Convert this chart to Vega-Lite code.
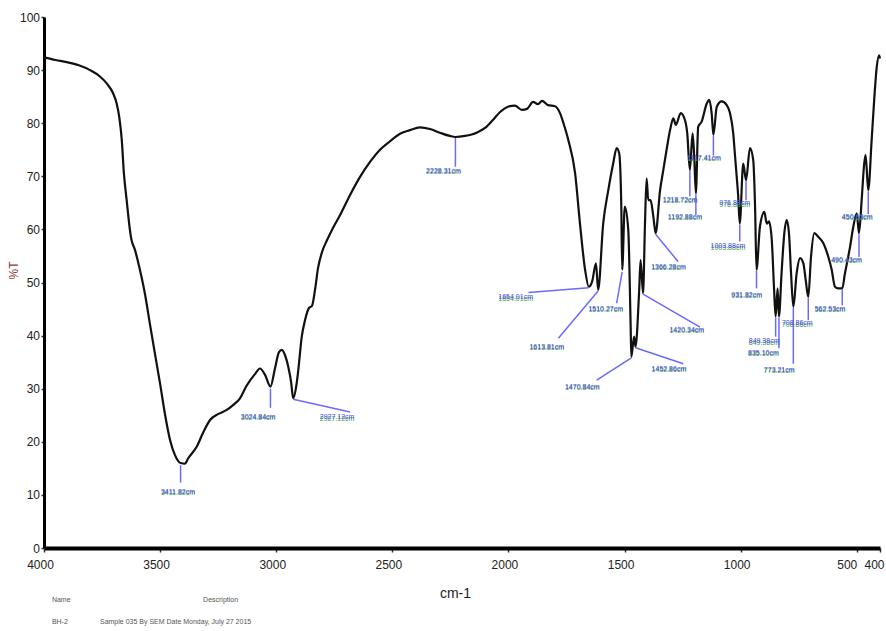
{
  "$schema": "https://vega.github.io/schema/vega-lite/v6.json",
  "width": 836,
  "height": 531,
  "autosize": {"type": "none"},
  "padding": {"left": 44, "top": 17, "right": 6, "bottom": 83},
  "background": "white",
  "config": {
    "view": {"stroke": null},
    "font": "Liberation Sans, Arial, sans-serif"
  },
  "datasets": {
    "spectrum": [
      {"wn": 4000, "t": 92.4}, {"wn": 3950, "t": 91.9}, {"wn": 3902, "t": 91.5}, {"wn": 3850, "t": 90.9},
      {"wn": 3802, "t": 90.0}, {"wn": 3759, "t": 88.8}, {"wn": 3730, "t": 87.5}, {"wn": 3702, "t": 85.6},
      {"wn": 3687, "t": 83.7}, {"wn": 3676, "t": 81.2}, {"wn": 3665, "t": 76.8}, {"wn": 3656, "t": 70.6},
      {"wn": 3644, "t": 65.5}, {"wn": 3630, "t": 59.9}, {"wn": 3625, "t": 58.4},
      {"wn": 3608, "t": 56.1}, {"wn": 3587, "t": 52.4}, {"wn": 3565, "t": 47.8}, {"wn": 3544, "t": 42.2},
      {"wn": 3522, "t": 36.5}, {"wn": 3500, "t": 30.9}, {"wn": 3479, "t": 25.2}, {"wn": 3457, "t": 20.3},
      {"wn": 3436, "t": 17.5}, {"wn": 3411.82, "t": 16.0}, {"wn": 3393, "t": 15.9}, {"wn": 3379, "t": 16.9},
      {"wn": 3342, "t": 19.1}, {"wn": 3315, "t": 21.7}, {"wn": 3285, "t": 24.1}, {"wn": 3251, "t": 25.2},
      {"wn": 3213, "t": 26.0}, {"wn": 3186, "t": 26.9}, {"wn": 3156, "t": 28.2}, {"wn": 3127, "t": 30.6},
      {"wn": 3091, "t": 32.8}, {"wn": 3070, "t": 33.8}, {"wn": 3048, "t": 32.6}, {"wn": 3024.84, "t": 30.4},
      {"wn": 3005, "t": 33.9}, {"wn": 2988, "t": 36.9}, {"wn": 2976, "t": 37.3}, {"wn": 2962, "t": 36.3},
      {"wn": 2948, "t": 34.1}, {"wn": 2936, "t": 31.3}, {"wn": 2927.12, "t": 28.2}, {"wn": 2913, "t": 30.7},
      {"wn": 2905, "t": 33.5}, {"wn": 2890, "t": 39.8}, {"wn": 2876, "t": 42.9}, {"wn": 2859, "t": 45.2},
      {"wn": 2846, "t": 45.6}, {"wn": 2833, "t": 48.6}, {"wn": 2820, "t": 52.7}, {"wn": 2803, "t": 55.7},
      {"wn": 2781, "t": 58.0}, {"wn": 2760, "t": 59.9}, {"wn": 2725, "t": 62.7}, {"wn": 2682, "t": 66.5},
      {"wn": 2639, "t": 69.9}, {"wn": 2596, "t": 72.7}, {"wn": 2553, "t": 75.0}, {"wn": 2510, "t": 76.6},
      {"wn": 2467, "t": 78.0}, {"wn": 2424, "t": 78.7}, {"wn": 2381, "t": 79.2}, {"wn": 2338, "t": 78.9},
      {"wn": 2295, "t": 78.2}, {"wn": 2252, "t": 77.6}, {"wn": 2228.31, "t": 77.4}, {"wn": 2187, "t": 77.6},
      {"wn": 2137, "t": 78.2}, {"wn": 2101, "t": 79.1}, {"wn": 2067, "t": 80.6}, {"wn": 2036, "t": 82.1},
      {"wn": 2002, "t": 83.1}, {"wn": 1972, "t": 83.3}, {"wn": 1942, "t": 82.5}, {"wn": 1920, "t": 82.7},
      {"wn": 1894, "t": 84.0}, {"wn": 1873, "t": 83.6}, {"wn": 1855, "t": 84.2}, {"wn": 1830, "t": 83.4},
      {"wn": 1800, "t": 83.2}, {"wn": 1778, "t": 81.9}, {"wn": 1761, "t": 79.7}, {"wn": 1742, "t": 76.8},
      {"wn": 1713, "t": 70.6}, {"wn": 1692, "t": 61.1}, {"wn": 1670, "t": 52.4}, {"wn": 1654.01, "t": 49.2},
      {"wn": 1640, "t": 50.1}, {"wn": 1623, "t": 53.6}, {"wn": 1613.81, "t": 48.6}, {"wn": 1592, "t": 61.1},
      {"wn": 1570, "t": 67.4}, {"wn": 1549, "t": 72.4}, {"wn": 1534, "t": 75.3}, {"wn": 1523, "t": 74.3},
      {"wn": 1514, "t": 64.3}, {"wn": 1510.27, "t": 52.4}, {"wn": 1499, "t": 64.3}, {"wn": 1484, "t": 59.9},
      {"wn": 1474, "t": 42.3}, {"wn": 1470.84, "t": 36.0}, {"wn": 1459, "t": 39.8}, {"wn": 1452.86, "t": 37.9},
      {"wn": 1437, "t": 48.6}, {"wn": 1431, "t": 54.2}, {"wn": 1420.34, "t": 48.0}, {"wn": 1412, "t": 61.1},
      {"wn": 1405, "t": 69.6}, {"wn": 1398, "t": 65.5}, {"wn": 1388, "t": 65.5}, {"wn": 1376, "t": 62.4},
      {"wn": 1366.28, "t": 59.3}, {"wn": 1347, "t": 67.4}, {"wn": 1333, "t": 71.2}, {"wn": 1319, "t": 75.0},
      {"wn": 1304, "t": 78.7}, {"wn": 1290, "t": 80.9}, {"wn": 1279, "t": 79.7}, {"wn": 1258, "t": 81.9},
      {"wn": 1240, "t": 80.6}, {"wn": 1230, "t": 78.1}, {"wn": 1218.72, "t": 71.2}, {"wn": 1207, "t": 78.1},
      {"wn": 1200, "t": 73.7}, {"wn": 1192.88, "t": 66.8}, {"wn": 1183, "t": 79.3}, {"wn": 1168, "t": 80.3},
      {"wn": 1146, "t": 83.7}, {"wn": 1135, "t": 84.4}, {"wn": 1125, "t": 81.9}, {"wn": 1117.41, "t": 77.8},
      {"wn": 1103, "t": 83.1}, {"wn": 1082, "t": 84.1}, {"wn": 1060, "t": 83.4}, {"wn": 1046, "t": 81.9},
      {"wn": 1032, "t": 78.1}, {"wn": 1024, "t": 73.7}, {"wn": 1017, "t": 69.9}, {"wn": 1011, "t": 66.5},
      {"wn": 1003.88, "t": 61.1}, {"wn": 989, "t": 72.4}, {"wn": 976.88, "t": 69.3}, {"wn": 960, "t": 75.3},
      {"wn": 946, "t": 73.1}, {"wn": 938, "t": 64.3}, {"wn": 931.82, "t": 52.4}, {"wn": 917, "t": 60.5},
      {"wn": 898, "t": 63.3}, {"wn": 888, "t": 61.1}, {"wn": 878, "t": 61.5}, {"wn": 866, "t": 58.0},
      {"wn": 856, "t": 48.6}, {"wn": 849.38, "t": 43.6}, {"wn": 841, "t": 48.9}, {"wn": 835.1, "t": 43.6},
      {"wn": 824, "t": 51.7}, {"wn": 812, "t": 59.3}, {"wn": 802, "t": 61.8}, {"wn": 792, "t": 59.3},
      {"wn": 783, "t": 51.7}, {"wn": 773.21, "t": 45.4}, {"wn": 759, "t": 51.7}, {"wn": 744, "t": 54.6},
      {"wn": 730, "t": 53.6}, {"wn": 720, "t": 50.5}, {"wn": 708.86, "t": 47.3}, {"wn": 697, "t": 54.9},
      {"wn": 683, "t": 59.3}, {"wn": 666, "t": 58.6}, {"wn": 644, "t": 57.4}, {"wn": 623, "t": 54.9},
      {"wn": 608, "t": 52.4}, {"wn": 594, "t": 49.2}, {"wn": 580, "t": 48.9}, {"wn": 562.53, "t": 48.9},
      {"wn": 551, "t": 51.7}, {"wn": 529, "t": 56.7}, {"wn": 515, "t": 60.5}, {"wn": 500, "t": 63.0},
      {"wn": 490.43, "t": 59.3}, {"wn": 479, "t": 65.5}, {"wn": 468, "t": 72.4}, {"wn": 462, "t": 74.0},
      {"wn": 450.63, "t": 67.4}, {"wn": 436, "t": 76.8}, {"wn": 425, "t": 84.4}, {"wn": 414, "t": 90.6},
      {"wn": 404, "t": 92.8}, {"wn": 400, "t": 92.2}
    ],
    "peaks": [
      {"label": "3411.82cm", "wn": 3411.82, "t": 15.6, "lx": 3411.82, "lt": 12.3, "tx": 3423, "tt": 10.5},
      {"label": "3024.84cm", "wn": 3024.84, "t": 30.0, "lx": 3024.84, "lt": 26.4, "tx": 3078, "tt": 24.7},
      {"label": "2927.12cm", "wn": 2927.12, "t": 28.0, "lx": 2682, "lt": 25.6, "tx": 2738, "tt": 24.6},
      {"label": "2228.31cm", "wn": 2228.31, "t": 77.2, "lx": 2228.31, "lt": 71.8, "tx": 2280, "tt": 71.0},
      {"label": "1654.01cm", "wn": 1654.01, "t": 49.0, "lx": 1914, "lt": 48.1, "tx": 1969, "tt": 47.2},
      {"label": "1613.81cm", "wn": 1613.81, "t": 48.4, "lx": 1785, "lt": 39.5, "tx": 1835, "tt": 37.9},
      {"label": "1510.27cm", "wn": 1510.27, "t": 52.0, "lx": 1534, "lt": 46.1, "tx": 1581, "tt": 45.1},
      {"label": "1470.84cm", "wn": 1470.84, "t": 35.8, "lx": 1620, "lt": 31.6, "tx": 1682, "tt": 30.4},
      {"label": "1452.86cm", "wn": 1452.86, "t": 37.7, "lx": 1247, "lt": 34.7, "tx": 1309, "tt": 33.8},
      {"label": "1420.34cm", "wn": 1420.34, "t": 47.8, "lx": 1175, "lt": 41.6, "tx": 1232, "tt": 41.1},
      {"label": "1366.28cm", "wn": 1366.28, "t": 59.1, "lx": 1269, "lt": 53.9, "tx": 1311, "tt": 53.0},
      {"label": "1218.72cm", "wn": 1218.72, "t": 71.0, "lx": 1218.72, "lt": 66.2, "tx": 1261, "tt": 65.5},
      {"label": "1192.88cm", "wn": 1192.88, "t": 66.6, "lx": 1192.88, "lt": 62.7, "tx": 1240, "tt": 62.4},
      {"label": "1117.41cm", "wn": 1117.41, "t": 77.6, "lx": 1117.41, "lt": 73.9, "tx": 1158, "tt": 73.4},
      {"label": "1003.88cm", "wn": 1003.88, "t": 60.9, "lx": 1003.88, "lt": 57.7, "tx": 1055, "tt": 56.8},
      {"label": "976.88cm", "wn": 976.88, "t": 69.1, "lx": 976.88, "lt": 65.5, "tx": 1026, "tt": 64.9},
      {"label": "931.82cm", "wn": 931.82, "t": 52.2, "lx": 931.82, "lt": 48.9, "tx": 974, "tt": 47.6},
      {"label": "849.38cm", "wn": 849.38, "t": 43.4, "lx": 849.38, "lt": 39.8, "tx": 899, "tt": 38.9},
      {"label": "835.10cm", "wn": 835.1, "t": 43.4, "lx": 835.1, "lt": 37.6, "tx": 902, "tt": 36.7},
      {"label": "773.21cm", "wn": 773.21, "t": 45.2, "lx": 773.21, "lt": 34.7, "tx": 834, "tt": 33.5},
      {"label": "708.86cm", "wn": 708.86, "t": 47.1, "lx": 708.86, "lt": 42.9, "tx": 756, "tt": 42.3},
      {"label": "562.53cm", "wn": 562.53, "t": 48.7, "lx": 562.53, "lt": 45.7, "tx": 615, "tt": 45.1},
      {"label": "490.43cm", "wn": 490.43, "t": 59.1, "lx": 490.43, "lt": 54.8, "tx": 544, "tt": 54.2},
      {"label": "450.63cm", "wn": 450.63, "t": 67.2, "lx": 450.63, "lt": 62.9, "tx": 498, "tt": 62.4}
    ],
    "footer": [
      {"text": "Name", "wn": 3966, "t": -9.8},
      {"text": "Description", "wn": 3315, "t": -9.8},
      {"text": "BH-2", "wn": 3966, "t": -13.9},
      {"text": "Sample 035 By SEM Date Monday, July 27 2015", "wn": 3759, "t": -13.9}
    ]
  },
  "layer": [
    {
      "data": {"name": "spectrum"},
      "mark": {"type": "line", "color": "#111111", "strokeWidth": 2.2, "interpolate": "monotone"},
      "encoding": {
        "x": {
          "field": "wn", "type": "quantitative",
          "scale": {"domain": [400, 4000], "reverse": true, "nice": false, "zero": false},
          "axis": {
            "title": "cm-1",
            "values": [4000, 3500, 3000, 2500, 2000, 1500, 1000, 500, 400],
            "format": "d",
            "grid": false,
            "domainColor": "#000000", "domainWidth": 4,
            "tickColor": "#333333", "tickSize": 4, "tickWidth": 1.5,
            "labelFont": "Liberation Sans, Arial, sans-serif",
            "labelFontSize": 12, "labelColor": "#222222", "labelPadding": 7,
            "labelOffset": {"condition": [
              {"test": "datum.value == 500", "value": -10},
              {"test": "datum.value == 400", "value": -6}
            ], "value": -4},
            "labelFlush": false, "labelOverlap": false, "labelBound": false,
            "titleFont": "Liberation Sans, Arial, sans-serif",
            "titleFontSize": 14, "titleFontWeight": "normal", "titleColor": "#222222",
            "titleX": 411, "titleY": 45, "titleBaseline": "middle"
          }
        },
        "y": {
          "field": "t", "type": "quantitative",
          "scale": {"domain": [0, 100], "nice": false},
          "axis": {
            "title": "%T",
            "values": [0, 10, 20, 30, 40, 50, 60, 70, 80, 90, 100],
            "grid": false,
            "domainColor": "#000000", "domainWidth": 3,
            "tickColor": "#333333", "tickSize": 3, "tickWidth": 1.5,
            "labelFont": "Liberation Sans, Arial, sans-serif",
            "labelFontSize": 12, "labelColor": "#222222", "labelPadding": 1.5,
            "labelOverlap": false, "labelBound": false,
            "titleFont": "Liberation Sans, Arial, sans-serif",
            "titleFontSize": 12, "titleFontWeight": "normal", "titleColor": "#8a3c3c",
            "titleX": -31, "titleY": 253, "titleAngle": 270,
            "titleAlign": "center", "titleBaseline": "middle"
          }
        }
      }
    },
    {
      "data": {"name": "peaks"},
      "mark": {"type": "rule", "color": "#6a6aff", "strokeWidth": 1.5},
      "encoding": {
        "x": {"field": "wn", "type": "quantitative"},
        "y": {"field": "t", "type": "quantitative"},
        "x2": {"field": "lx"},
        "y2": {"field": "lt"}
      }
    },
    {
      "data": {"name": "peaks"},
      "mark": {"type": "text", "color": "#3aa03a", "fontSize": 7, "dy": 1.2, "align": "center", "baseline": "middle",
               "font": "Liberation Sans, Arial, sans-serif"},
      "encoding": {
        "x": {"field": "tx", "type": "quantitative"},
        "y": {"field": "tt", "type": "quantitative"},
        "text": {"field": "label"}
      }
    },
    {
      "data": {"name": "peaks"},
      "mark": {"type": "text", "color": "#4a4aee", "fontSize": 7, "align": "center", "baseline": "middle",
               "font": "Liberation Sans, Arial, sans-serif"},
      "encoding": {
        "x": {"field": "tx", "type": "quantitative"},
        "y": {"field": "tt", "type": "quantitative"},
        "text": {"field": "label"}
      }
    },
    {
      "data": {"name": "footer"},
      "mark": {"type": "text", "color": "#555555", "fontSize": 7, "align": "left", "baseline": "middle",
               "font": "Liberation Sans, Arial, sans-serif"},
      "encoding": {
        "x": {"field": "wn", "type": "quantitative"},
        "y": {"field": "t", "type": "quantitative"},
        "text": {"field": "text"}
      }
    }
  ]
}
